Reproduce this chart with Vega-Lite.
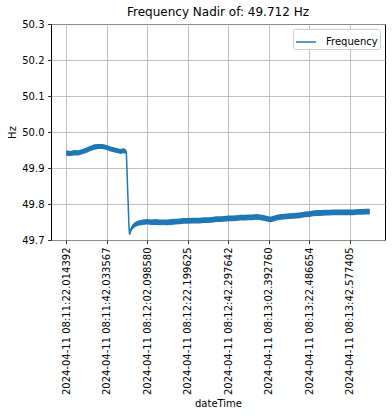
{
  "$schema": "https://vega.github.io/schema/vega-lite/v6.json",
  "width": 334,
  "height": 216,
  "autosize": {"type": "none"},
  "padding": {"left": 51, "top": 24, "right": 7, "bottom": 176},
  "background": "white",
  "title": {"text": "Frequency Nadir of: 49.712 Hz", "fontSize": 12, "font": "DejaVu Sans", "fontWeight": "normal", "color": "#000", "offset": 0},
  "config": {
    "view": {"stroke": "#000", "strokeWidth": 1},
    "font": "DejaVu Sans",
    "axis": {"labelFont": "DejaVu Sans", "labelFontSize": 10, "labelColor": "#000", "titleFont": "DejaVu Sans", "titleFontSize": 10, "titleFontWeight": "normal", "titleColor": "#000", "gridColor": "#b0b0b0", "gridWidth": 0.8, "gridOpacity": 1, "tickColor": "#000", "tickSize": 3.5, "tickWidth": 0.8, "domain": false, "labelPadding": 3.5, "labelOverlap": false}
  },
  "data": {"values": [
    {"i":0,"f":49.941,"lo":49.934,"hi":49.949},
    {"i":20,"f":49.940,"lo":49.933,"hi":49.947},
    {"i":40,"f":49.942,"lo":49.935,"hi":49.950},
    {"i":60,"f":49.942,"lo":49.935,"hi":49.949},
    {"i":80,"f":49.945,"lo":49.938,"hi":49.953},
    {"i":100,"f":49.949,"lo":49.942,"hi":49.957},
    {"i":120,"f":49.954,"lo":49.947,"hi":49.962},
    {"i":140,"f":49.958,"lo":49.951,"hi":49.966},
    {"i":160,"f":49.960,"lo":49.953,"hi":49.967},
    {"i":180,"f":49.960,"lo":49.953,"hi":49.967},
    {"i":200,"f":49.957,"lo":49.950,"hi":49.964},
    {"i":220,"f":49.953,"lo":49.946,"hi":49.960},
    {"i":240,"f":49.950,"lo":49.943,"hi":49.957},
    {"i":260,"f":49.947,"lo":49.940,"hi":49.954},
    {"i":270,"f":49.946,"lo":49.939,"hi":49.953},
    {"i":280,"f":49.948,"lo":49.941,"hi":49.955},
    {"i":290,"f":49.947,"lo":49.940,"hi":49.954},
    {"i":297,"f":49.945,"lo":49.940,"hi":49.950},
    {"i":300,"f":49.900,"lo":49.900,"hi":49.900},
    {"i":305,"f":49.820,"lo":49.820,"hi":49.820},
    {"i":310,"f":49.740,"lo":49.740,"hi":49.740},
    {"i":313,"f":49.716,"lo":49.712,"hi":49.720},
    {"i":318,"f":49.726,"lo":49.719,"hi":49.733},
    {"i":325,"f":49.735,"lo":49.728,"hi":49.742},
    {"i":340,"f":49.743,"lo":49.736,"hi":49.750},
    {"i":360,"f":49.747,"lo":49.740,"hi":49.755},
    {"i":380,"f":49.749,"lo":49.742,"hi":49.757},
    {"i":400,"f":49.750,"lo":49.743,"hi":49.758},
    {"i":420,"f":49.749,"lo":49.742,"hi":49.757},
    {"i":440,"f":49.750,"lo":49.742,"hi":49.758},
    {"i":460,"f":49.749,"lo":49.741,"hi":49.757},
    {"i":480,"f":49.749,"lo":49.742,"hi":49.757},
    {"i":500,"f":49.749,"lo":49.741,"hi":49.757},
    {"i":520,"f":49.750,"lo":49.742,"hi":49.758},
    {"i":540,"f":49.751,"lo":49.743,"hi":49.759},
    {"i":560,"f":49.752,"lo":49.744,"hi":49.760},
    {"i":580,"f":49.753,"lo":49.745,"hi":49.761},
    {"i":600,"f":49.753,"lo":49.745,"hi":49.761},
    {"i":620,"f":49.754,"lo":49.746,"hi":49.762},
    {"i":640,"f":49.754,"lo":49.746,"hi":49.762},
    {"i":660,"f":49.754,"lo":49.746,"hi":49.762},
    {"i":680,"f":49.755,"lo":49.747,"hi":49.763},
    {"i":700,"f":49.755,"lo":49.747,"hi":49.763},
    {"i":720,"f":49.756,"lo":49.748,"hi":49.764},
    {"i":740,"f":49.758,"lo":49.750,"hi":49.766},
    {"i":760,"f":49.758,"lo":49.750,"hi":49.766},
    {"i":780,"f":49.759,"lo":49.751,"hi":49.767},
    {"i":800,"f":49.760,"lo":49.752,"hi":49.768},
    {"i":820,"f":49.760,"lo":49.752,"hi":49.768},
    {"i":840,"f":49.761,"lo":49.753,"hi":49.769},
    {"i":860,"f":49.762,"lo":49.754,"hi":49.770},
    {"i":880,"f":49.762,"lo":49.754,"hi":49.770},
    {"i":900,"f":49.763,"lo":49.755,"hi":49.771},
    {"i":920,"f":49.763,"lo":49.755,"hi":49.771},
    {"i":940,"f":49.764,"lo":49.756,"hi":49.772},
    {"i":960,"f":49.763,"lo":49.755,"hi":49.771},
    {"i":980,"f":49.761,"lo":49.753,"hi":49.769},
    {"i":1000,"f":49.758,"lo":49.750,"hi":49.766},
    {"i":1010,"f":49.757,"lo":49.749,"hi":49.765},
    {"i":1020,"f":49.759,"lo":49.751,"hi":49.767},
    {"i":1040,"f":49.762,"lo":49.754,"hi":49.770},
    {"i":1060,"f":49.764,"lo":49.756,"hi":49.772},
    {"i":1080,"f":49.765,"lo":49.757,"hi":49.773},
    {"i":1100,"f":49.766,"lo":49.758,"hi":49.774},
    {"i":1120,"f":49.767,"lo":49.759,"hi":49.775},
    {"i":1140,"f":49.768,"lo":49.760,"hi":49.776},
    {"i":1160,"f":49.769,"lo":49.761,"hi":49.777},
    {"i":1180,"f":49.771,"lo":49.763,"hi":49.779},
    {"i":1200,"f":49.772,"lo":49.764,"hi":49.780},
    {"i":1220,"f":49.774,"lo":49.766,"hi":49.782},
    {"i":1240,"f":49.775,"lo":49.767,"hi":49.783},
    {"i":1260,"f":49.775,"lo":49.767,"hi":49.783},
    {"i":1280,"f":49.776,"lo":49.768,"hi":49.784},
    {"i":1300,"f":49.776,"lo":49.768,"hi":49.784},
    {"i":1320,"f":49.777,"lo":49.769,"hi":49.785},
    {"i":1340,"f":49.777,"lo":49.769,"hi":49.785},
    {"i":1360,"f":49.777,"lo":49.769,"hi":49.785},
    {"i":1380,"f":49.777,"lo":49.769,"hi":49.785},
    {"i":1400,"f":49.777,"lo":49.769,"hi":49.785},
    {"i":1420,"f":49.777,"lo":49.769,"hi":49.785},
    {"i":1440,"f":49.778,"lo":49.770,"hi":49.786},
    {"i":1460,"f":49.778,"lo":49.770,"hi":49.786},
    {"i":1480,"f":49.779,"lo":49.771,"hi":49.787},
    {"i":1500,"f":49.779,"lo":49.771,"hi":49.787}
  ]},
  "encoding": {
    "x": {"field": "i", "type": "quantitative", "scale": {"domain": [-75, 1575], "nice": false, "zero": false},
      "axis": {"title": "dateTime", "values": [0,200,400,600,800,1000,1200,1400], "tickCount": 20, "labelAngle": -90, "labelAlign": "right", "labelBaseline": "middle", "titlePadding": 4,
        "labelExpr": "['2024-04-11 08:11:22.014392','2024-04-11 08:11:42.033567','2024-04-11 08:12:02.098580','2024-04-11 08:12:22.199625','2024-04-11 08:12:42.297642','2024-04-11 08:13:02.392760','2024-04-11 08:13:22.486654','2024-04-11 08:13:42.577405'][round(datum.value/200)]"}}
  },
  "layer": [
    {"mark": {"type": "area", "color": "#1f77b4", "opacity": 1},
     "encoding": {
       "y": {"field": "lo", "type": "quantitative", "scale": {"domain": [49.7, 50.3], "nice": false, "zero": false},
         "axis": {"title": "Hz", "values": [49.7,49.8,49.9,50.0,50.1,50.2,50.3], "tickCount": 20, "format": ".1f", "titlePadding": 4}},
       "y2": {"field": "hi"}
     }},
    {"mark": {"type": "line", "strokeWidth": 1.5},
     "encoding": {
       "y": {"field": "f", "type": "quantitative"},
       "color": {"datum": "Frequency", "scale": {"range": ["#1f77b4"]},
         "legend": {"title": null, "orient": "top-right", "offset": 5, "strokeColor": "#cccccc", "fillColor": "white", "cornerRadius": 2, "padding": 2, "symbolType": "stroke", "symbolSize": 400, "symbolStrokeWidth": 1.5, "labelFontSize": 10, "labelFont": "DejaVu Sans", "labelColor": "#000", "labelOffset": 9}}
     }}
  ]
}
